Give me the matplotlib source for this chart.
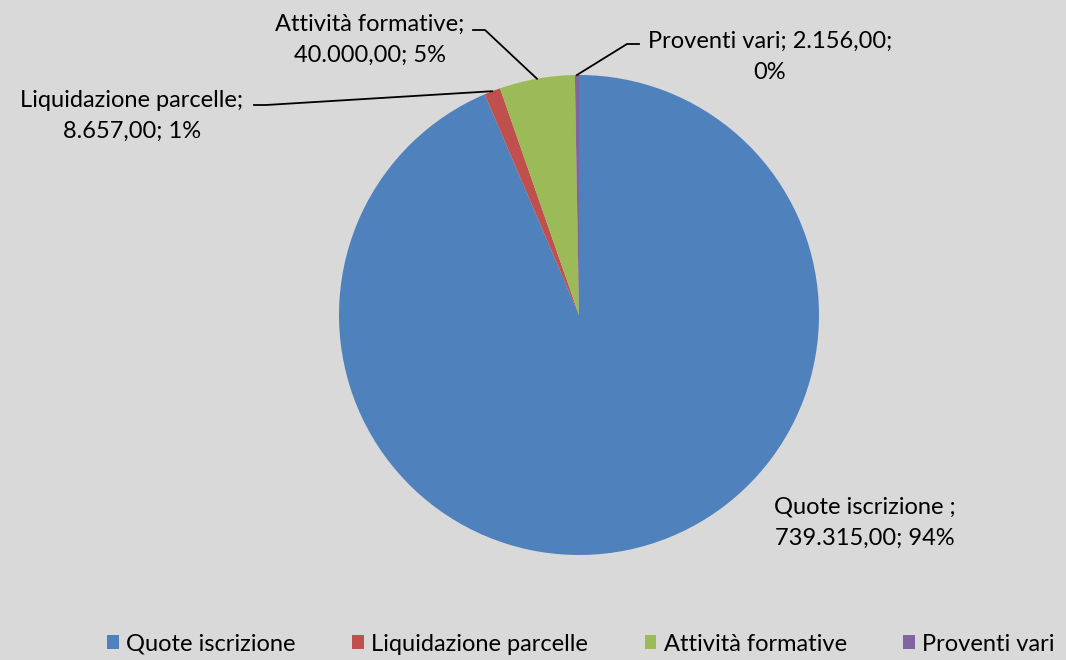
import numpy as np
import matplotlib.pyplot as plt
from matplotlib.patches import Patch

plt.rcParams['font.family'] = ['Lato', 'DejaVu Sans']

categories = ["Quote iscrizione", "Liquidazione parcelle", "Attività formative", "Proventi vari"]
values = [739315.00, 8657.00, 40000.00, 2156.00]
value_labels = ["739.315,00", "8.657,00", "40.000,00", "2.156,00"]
colors = ["#4f81bd", "#c0504d", "#9bbb59", "#8064a2"]

W, H = 1066, 660
bg = "#d9d9d9"
fig = plt.figure(figsize=(W / 100, H / 100), dpi=100, facecolor=bg)
ax = fig.add_axes([0, 0, 1, 1])
ax.set_facecolor(bg)


def py(y):
    # pixel row (from top) -> data y
    return H - y


cx, cy, r = 579, py(315), 240
wedges, _ = ax.pie(values, colors=colors, startangle=90, counterclock=False,
                   center=(cx, cy), radius=r, frame=True)
ax.set_xlim(0, W)
ax.set_ylim(0, H)
ax.set_aspect("equal")
ax.axis("off")

total = sum(values)
pct = [round(v / total * 100) for v in values]

fs = 17
# (center x, center y of the two-line block, line1, line2, leader start)
labels = [
    (865, 523, f"{categories[0]} ;", f"{value_labels[0]}; {pct[0]}%", None),
    (132, 116, f"{categories[1]};", f"{value_labels[1]}; {pct[1]}%", (254, 105)),
    (370, 40, f"{categories[2]};", f"{value_labels[2]}; {pct[2]}%", (473, 30)),
    (770, 57, f"{categories[3]}; {value_labels[3]};", f"{pct[3]}%", (639, 44)),
]

for i, (lx, ly, t1, t2, anchor) in enumerate(labels):
    ax.text(lx, py(ly), t1 + "\n" + t2, ha="center", va="center", fontsize=fs,
            linespacing=1.6, color="black")
    if anchor is not None:
        w = wedges[i]
        mid = np.deg2rad((w.theta1 + w.theta2) / 2)
        ex = cx + r * np.cos(mid)
        ey = cy + r * np.sin(mid)
        step = 12 if anchor[0] < ex else -12
        ax.plot([anchor[0], anchor[0] + step, ex],
                [py(anchor[1]), py(anchor[1]), ey], color="black", lw=1.3)

handles = [Patch(facecolor=c, edgecolor="none") for c in colors]
fig.legend(handles, categories, loc="lower center", bbox_to_anchor=(0.545, -0.024),
           ncol=4, frameon=False, fontsize=fs, handlelength=0.5, handleheight=0.5,
           handletextpad=0.3, columnspacing=2.4)

fig.savefig("out.png", dpi=100, facecolor=bg)
